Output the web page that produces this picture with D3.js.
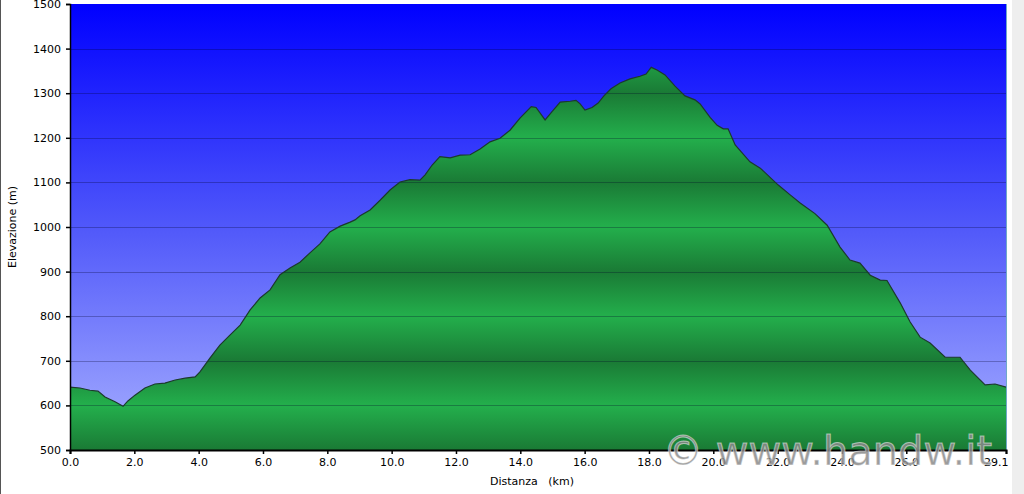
<!DOCTYPE html>
<html><head><meta charset="utf-8">
<script src="https://cdn.jsdelivr.net/npm/d3@7"></script>
<style>html,body{margin:0;padding:0;background:#fff;overflow:hidden}</style>
</head><body>
<svg id="chart" width="1024" height="494"></svg>
<script>
const distanceKm = [0.00,0.31,0.62,0.87,1.09,1.40,1.65,1.80,2.02,2.33,2.64,2.95,3.27,3.58,3.89,4.04,4.35,4.66,4.98,5.29,5.60,5.91,6.22,6.53,6.84,7.15,7.46,7.77,8.08,8.40,8.71,8.86,9.02,9.33,9.64,9.95,10.26,10.57,10.88,11.04,11.26,11.50,11.82,12.13,12.44,12.75,13.06,13.37,13.68,13.99,14.34,14.49,14.77,14.98,15.24,15.55,15.73,15.86,16.01,16.23,16.42,16.60,16.82,17.10,17.41,17.72,17.91,18.07,18.25,18.50,18.81,19.12,19.43,19.59,19.90,20.12,20.31,20.46,20.68,21.14,21.46,22.02,22.39,22.70,23.16,23.54,23.94,24.25,24.56,24.88,25.19,25.40,25.81,26.12,26.43,26.74,27.21,27.67,27.99,28.45,28.76,29.10];
const elevationM = [641,639,634,632,619,608,598,610,623,639,648,650,657,661,664,675,706,735,758,780,814,841,859,893,908,921,942,962,989,1002,1011,1016,1025,1038,1060,1083,1101,1106,1105,1117,1139,1158,1155,1161,1162,1175,1191,1199,1217,1244,1270,1268,1240,1258,1280,1282,1284,1276,1262,1268,1278,1294,1310,1323,1332,1338,1343,1358,1352,1341,1316,1294,1285,1276,1246,1228,1220,1220,1184,1146,1132,1094,1072,1054,1030,1004,955,926,919,892,881,880,830,787,753,740,708,708,679,646,648,641];
const xTickValues = [0,2,4,6,8,10,12,14,16,18,20,22,24,26,29.1];
const xTickLabels = ["0.0","2.0","4.0","6.0","8.0","10.0","12.0","14.0","16.0","18.0","20.0","22.0","24.0","26.0","29.1"];
const yTickValues = [500,600,700,800,900,1000,1100,1200,1300,1400,1500];
const yTickLabels = ["500","600","700","800","900","1000","1100","1200","1300","1400","1500"];

const data = distanceKm.map((d,i)=>({d, e: elevationM[i]}));
const svg = d3.select("#chart");
const L=70, R=1006, T=4, B=450;
const x = d3.scaleLinear().domain([0,29.1]).range([L,R]);
const y = d3.scaleLinear().domain([500,1500]).range([B,T]);
const font = "DejaVu Sans, Verdana, sans-serif";

svg.append("rect").attr("width",1024).attr("height",494).attr("fill","#fff");
// left border and right strip
svg.append("line").attr("x1",0.5).attr("x2",0.5).attr("y1",0).attr("y2",494).attr("stroke","#555").attr("stroke-width",1);
svg.append("rect").attr("x",1012).attr("y",0).attr("width",12).attr("height",494).attr("fill","#eeeeee");

const defs = svg.append("defs");
const sky = defs.append("linearGradient").attr("id","sky").attr("gradientUnits","userSpaceOnUse")
  .attr("x1",0).attr("x2",0).attr("y1",y(1500)).attr("y2",y(500));
sky.append("stop").attr("offset","0%").attr("stop-color","#0000ff");
sky.append("stop").attr("offset","50%").attr("stop-color","#5058fa");
sky.append("stop").attr("offset","100%").attr("stop-color","#a8b0ff");

const band = defs.append("linearGradient").attr("id","band").attr("gradientUnits","userSpaceOnUse")
  .attr("spreadMethod","repeat").attr("x1",0).attr("x2",0).attr("y1",y(1100)).attr("y2",y(900));
band.append("stop").attr("offset","0%").attr("stop-color","#1a7a35");
band.append("stop").attr("offset","48%").attr("stop-color","#23ad4b");
band.append("stop").attr("offset","52%").attr("stop-color","#23ad4b");
band.append("stop").attr("offset","100%").attr("stop-color","#1a7a35");

svg.append("rect").attr("x",L).attr("y",T).attr("width",R-L).attr("height",B-T).attr("fill","url(#sky)");

const area = d3.area().x(d=>x(d.d)).y0(y(500)).y1(d=>y(d.e));
svg.append("path").datum(data).attr("d",area).attr("fill","url(#band)");

// grid
svg.append("g").selectAll("line").data(yTickValues.filter(v=>v>500&&v<1500)).join("line")
  .attr("x1",L).attr("x2",R).attr("y1",d=>Math.round(y(d))+0.5).attr("y2",d=>Math.round(y(d))+0.5)
  .attr("stroke","rgba(0,0,40,0.28)").attr("stroke-width",1);

const line = d3.line().x(d=>x(d.d)).y(d=>y(d.e));
svg.append("path").datum(data).attr("d",line).attr("fill","none").attr("stroke","#1c3a2c").attr("stroke-width",1.2);

// right edge line
svg.append("line").attr("x1",R+0.5).attr("x2",R+0.5).attr("y1",T).attr("y2",B).attr("stroke","#6fa8c8").attr("stroke-width",1);

// axes
const yAxis = d3.axisLeft(y).tickValues(yTickValues).tickFormat((d,i)=>yTickLabels[i]).tickSize(4).tickPadding(5);
const gy = svg.append("g").attr("transform",`translate(${L},0)`).call(yAxis);
gy.select(".domain").attr("stroke","#000").attr("stroke-width",1.5);
gy.selectAll(".tick line").attr("stroke","#000").attr("stroke-width",1.5);
gy.selectAll("text").attr("font-family",font).attr("font-size",11).attr("fill","#000");

const xAxis = d3.axisBottom(x).tickValues(xTickValues).tickFormat((d,i)=>xTickLabels[i]).tickSize(4).tickPadding(4);
const gx = svg.append("g").attr("transform",`translate(0,${B})`).call(xAxis);
gx.select(".domain").attr("stroke","#000").attr("stroke-width",2);
gx.selectAll(".tick line").attr("stroke","#000").attr("stroke-width",1.5);
gx.selectAll("text").attr("font-family",font).attr("font-size",11).attr("fill","#000");
gx.selectAll(".tick").filter(d=>d===29.1).select("text").attr("text-anchor","end").attr("dx",2);

svg.append("text").attr("x",490).attr("y",485).attr("font-family",font).attr("font-size",11)
  .style("white-space","pre").attr("fill","#000").text("Distanza   (km)");
svg.append("text").attr("transform","translate(16,227) rotate(-90)").attr("text-anchor","middle")
  .attr("font-family",font).attr("font-size",11).attr("fill","#000").text("Elevazione (m)");

// watermark
svg.append("text").attr("x",663).attr("y",465).attr("font-family",font).attr("font-size",40)
  .attr("fill","#8a8a8a").attr("fill-opacity",0.85).attr("stroke","#ffffff").attr("stroke-opacity",0.5).attr("stroke-width",1)
  .style("white-space","pre").text("© www.handw.it");
</script>
</body></html>
